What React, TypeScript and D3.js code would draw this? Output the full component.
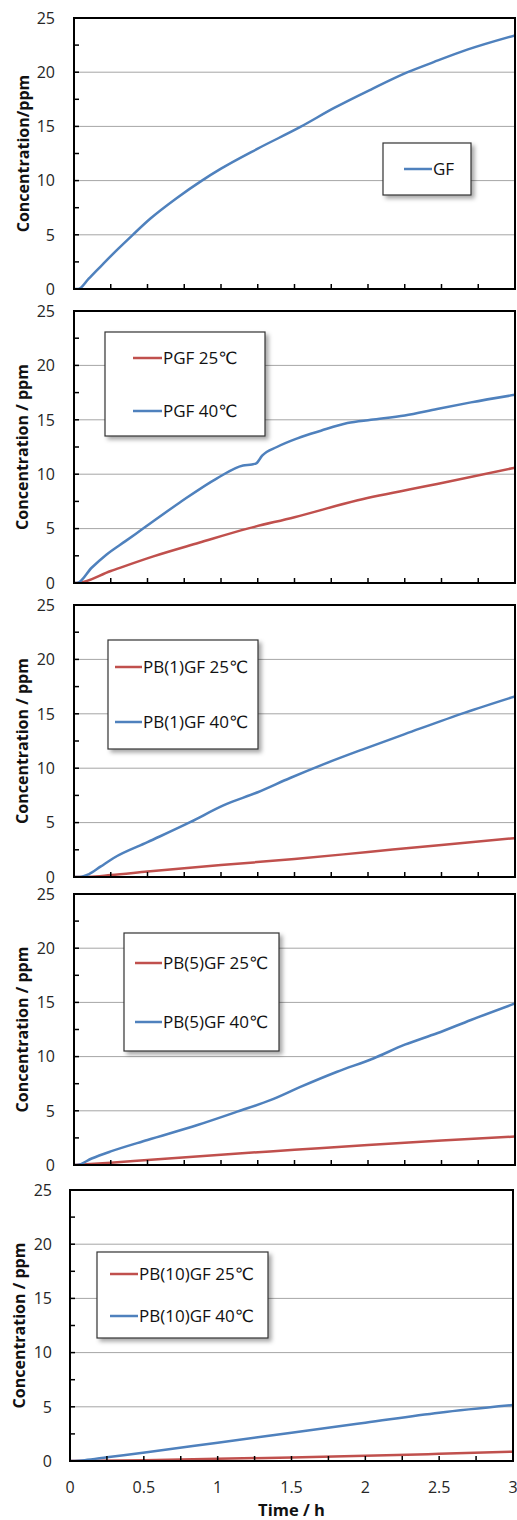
import React from "react";
import * as d3 from "d3";

// ---------- data ----------
const yTicks = [0, 5, 10, 15, 20, 25];
const xTickLabels = ["0", "0.5", "1", "1.5", "2", "2.5", "3"];
const xTickValues = [0, 0.5, 1, 1.5, 2, 2.5, 3];

const timeGF = [0, 0.03, 0.1, 0.2, 0.3, 0.4, 0.52, 0.7, 0.87, 1.0, 1.25, 1.54, 1.77, 2.02, 2.27, 2.45, 2.68, 3.0];
const concGF = [0, 0, 0.95, 2.35, 3.7, 5.0, 6.5, 8.4, 10.0, 11.1, 12.95, 14.95, 16.7, 18.4, 20.0, 20.95, 22.1, 23.4];

const timePGF25 = [0, 0.02, 0.25, 0.54, 0.85, 1.18, 1.5, 1.93, 2.47, 3.0];
const concPGF25 = [0, 0, 1.1, 2.45, 3.7, 5.0, 6.05, 7.6, 9.1, 10.6];
const timePGF40 = [0, 0.02, 0.12, 0.22, 0.35, 0.47, 0.72, 0.97, 1.15, 1.21, 1.24, 1.28, 1.38, 1.52, 1.68, 1.86, 2.02, 2.25, 2.47, 2.7, 3.0];
const concPGF40 = [0, 0, 1.4, 2.6, 3.85, 5.0, 7.4, 9.6, 10.8, 10.9, 11.0, 11.7, 12.5, 13.3, 14.0, 14.7, 15.0, 15.4, 16.0, 16.6, 17.3];

const timePB1_25 = [0, 0.1, 0.25, 0.5, 1.0, 1.5, 2.0, 2.5, 3.0];
const concPB1_25 = [0, 0.02, 0.18, 0.5, 1.1, 1.65, 2.3, 2.95, 3.57];
const timePB1_40 = [0, 0.04, 0.1, 0.18, 0.27, 0.5, 0.79, 1.02, 1.25, 1.47, 1.7, 1.97, 2.25, 2.66, 3.0];
const concPB1_40 = [0, 0, 0.25, 0.95, 1.75, 3.2, 5.04, 6.6, 7.79, 9.1, 10.38, 11.76, 13.13, 15.11, 16.6];

const timePB5_25 = [0, 0.25, 0.5, 1.0, 1.5, 2.0, 2.5, 3.0];
const concPB5_25 = [0, 0.2, 0.46, 0.95, 1.4, 1.85, 2.25, 2.62];
const timePB5_40 = [0, 0.02, 0.12, 0.245, 0.5, 0.84, 1.11, 1.34, 1.54, 1.79, 2.04, 2.25, 2.47, 2.7, 3.0];
const concPB5_40 = [0, 0, 0.6, 1.23, 2.31, 3.69, 4.92, 6.0, 7.2, 8.6, 9.85, 11.1, 12.15, 13.38, 14.9];

const timePB10_25 = [0, 0.5, 1.0, 1.5, 2.0, 2.5, 3.0];
const concPB10_25 = [0, 0.08, 0.2, 0.33, 0.48, 0.66, 0.86];
const timePB10_40 = [0, 0.1, 0.25, 0.52, 1.0, 1.5, 2.0, 2.5, 3.0];
const concPB10_40 = [0, 0.08, 0.34, 0.8, 1.69, 2.61, 3.53, 4.45, 5.16];

const yTitles = ["Concentration/ppm", "Concentration / ppm", "Concentration / ppm", "Concentration / ppm", "Concentration / ppm"];
const xTitle = "Time / h";

const RED = "#C0504D";
const BLUE = "#4F81BD";

type Series = { name: string; color: string; t: number[]; v: number[] };

const panelSeries: Series[][] = [
  [{ name: "GF", color: BLUE, t: timeGF, v: concGF }],
  [
    { name: "PGF 25℃", color: RED, t: timePGF25, v: concPGF25 },
    { name: "PGF 40℃", color: BLUE, t: timePGF40, v: concPGF40 },
  ],
  [
    { name: "PB(1)GF 25℃", color: RED, t: timePB1_25, v: concPB1_25 },
    { name: "PB(1)GF 40℃", color: BLUE, t: timePB1_40, v: concPB1_40 },
  ],
  [
    { name: "PB(5)GF 25℃", color: RED, t: timePB5_25, v: concPB5_25 },
    { name: "PB(5)GF 40℃", color: BLUE, t: timePB5_40, v: concPB5_40 },
  ],
  [
    { name: "PB(10)GF 25℃", color: RED, t: timePB10_25, v: concPB10_25 },
    { name: "PB(10)GF 40℃", color: BLUE, t: timePB10_40, v: concPB10_40 },
  ],
];

// ---------- layout ----------
type Layout = {
  left: number; right: number; top: number; bottom: number;
  titleX: number; tickRight: number;
  legend: { x: number; y: number; w: number; h: number; lineX1: number; lineX2: number; rows: number[] };
};

const layouts: Layout[] = [
  { left: 74, right: 515, top: 18, bottom: 289, titleX: 23, tickRight: 55,
    legend: { x: 383, y: 143, w: 88, h: 52, lineX1: 404, lineX2: 432, rows: [169] } },
  { left: 74, right: 515, top: 311, bottom: 583, titleX: 22, tickRight: 55,
    legend: { x: 105, y: 332, w: 160, h: 104, lineX1: 133, lineX2: 162, rows: [358, 411] } },
  { left: 74, right: 515, top: 605, bottom: 877, titleX: 22, tickRight: 55,
    legend: { x: 108, y: 640, w: 150, h: 109, lineX1: 115, lineX2: 142, rows: [667, 722] } },
  { left: 74, right: 515, top: 894, bottom: 1165, titleX: 22, tickRight: 55,
    legend: { x: 124, y: 933, w: 155, h: 118, lineX1: 135, lineX2: 162, rows: [963, 1022] } },
  { left: 70, right: 513, top: 1190, bottom: 1461, titleX: 19, tickRight: 52,
    legend: { x: 97, y: 1252, w: 171, h: 86, lineX1: 110, lineX2: 138, rows: [1274, 1316] } },
];

const FONT = "'Open Sans', 'DejaVu Sans', sans-serif";

function Panel({ idx }: { idx: number }) {
  const L = layouts[idx];
  const series = panelSeries[idx];
  const x = d3.scaleLinear().domain([0, 3]).range([L.left, L.right]);
  const y = d3.scaleLinear().domain([0, 25]).range([L.bottom, L.top]);
  const line = d3
    .line<[number, number]>()
    .x((d) => x(d[0]))
    .y((d) => y(d[1]))
    .curve(d3.curveMonotoneX);
  const minorY = d3.range(0, 25.01, 2.5);
  const minorX = d3.range(0, 3.01, 0.25);
  const isLast = idx === layouts.length - 1;
  const cy = (L.top + L.bottom) / 2;
  return (
    <g>
      {yTicks.filter((v) => v > 0 && v < 25).map((v) => (
        <line key={"g" + v} x1={L.left} x2={L.right} y1={y(v)} y2={y(v)} stroke="#A6A6A6" strokeWidth={1} />
      ))}
      <g clipPath={`url(#clip${idx})`}>
        {series.map((s) => (
          <path key={s.name} d={line(s.t.map((t, i) => [t, s.v[i]] as [number, number])) || ""}
            fill="none" stroke={s.color} strokeWidth={2.5} strokeLinejoin="round" />
        ))}
      </g>
      {minorY.map((v) => (
        <line key={"ty" + v} x1={L.left} x2={L.left + 5} y1={y(v)} y2={y(v)} stroke="#000" strokeWidth={1.5} />
      ))}
      {minorX.map((v) => (
        <line key={"tx" + v} x1={x(v)} x2={x(v)} y1={L.bottom} y2={L.bottom - 5} stroke="#000" strokeWidth={1.5} />
      ))}
      <rect x={L.left} y={L.top} width={L.right - L.left} height={L.bottom - L.top} fill="none" stroke="#000" strokeWidth={2} />
      {yTicks.map((v) => (
        <text key={"yl" + v} x={L.tickRight} y={y(v)} dy="0.36em" textAnchor="end" fontFamily={FONT} fontSize={16} fill="#262626">
          {v}
        </text>
      ))}
      <text transform={`translate(${L.titleX},${cy}) rotate(-90)`} textAnchor="middle" dy="0.35em"
        fontFamily={FONT} fontWeight="bold" fontSize={16} fill="#111">
        {yTitles[idx]}
      </text>
      {isLast && xTickValues.map((v, i) => (
        <text key={"xl" + v} x={x(v)} y={L.bottom + 26} dy="0.36em" textAnchor="middle" fontFamily={FONT} fontSize={16} fill="#262626">
          {xTickLabels[i]}
        </text>
      ))}
      {isLast && (
        <text x={(L.left + L.right) / 2} y={L.bottom + 55} textAnchor="middle" fontFamily={FONT} fontWeight="bold" fontSize={16.5} fill="#111">
          {xTitle}
        </text>
      )}
      <rect x={L.legend.x} y={L.legend.y} width={L.legend.w} height={L.legend.h} fill="#fff" stroke="#333" strokeWidth={1.2} filter="url(#shadow)" />
      {series.map((s, i) => (
        <g key={"lg" + s.name}>
          <line x1={L.legend.lineX1} x2={L.legend.lineX2} y1={L.legend.rows[i]} y2={L.legend.rows[i]} stroke={s.color} strokeWidth={2.5} />
          <text x={L.legend.lineX2 + 1} y={L.legend.rows[i]} dy="0.36em" fontFamily={FONT} fontSize={17} fill="#111">
            {s.name}
          </text>
        </g>
      ))}
    </g>
  );
}

export default function App() {
  return (
    <svg width={517} height={1520} style={{ position: "absolute", left: 0, top: 0, background: "#fff" }}>
      <defs>
        <filter id="shadow" x="-20%" y="-20%" width="150%" height="150%">
          <feDropShadow dx="3" dy="3" stdDeviation="2" floodColor="#000" floodOpacity="0.35" />
        </filter>
        {layouts.map((L, i) => (
          <clipPath key={i} id={`clip${i}`}>
            <rect x={L.left} y={L.top} width={L.right - L.left} height={L.bottom - L.top} />
          </clipPath>
        ))}
      </defs>
      <rect x={0} y={0} width={517} height={1520} fill="#fff" />
      {layouts.map((_, i) => (
        <Panel key={i} idx={i} />
      ))}
    </svg>
  );
}
